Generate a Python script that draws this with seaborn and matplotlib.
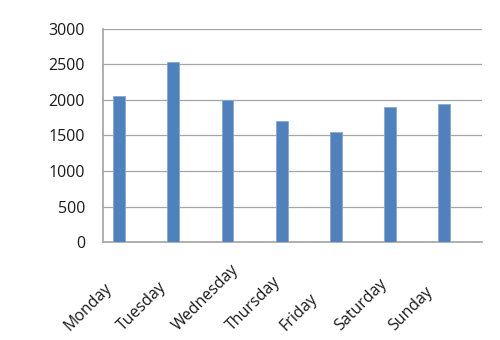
import matplotlib
matplotlib.use("Agg")
import matplotlib.pyplot as plt
from matplotlib.transforms import ScaledTranslation
import seaborn as sns
import pandas as pd
import numpy as np

days = ["Monday", "Tuesday", "Wednesday", "Thursday", "Friday", "Saturday", "Sunday"]
values = [2050, 2540, 2000, 1700, 1550, 1900, 1950]
yticks = [0, 500, 1000, 1500, 2000, 2500, 3000]

sns.set_theme(style="white")
plt.rcParams["font.family"] = ["Open Sans", "DejaVu Sans"]

# Excel-style clustered layout: the visible series sits in the left slot,
# an empty second series occupies the right slot.
df = pd.DataFrame({
    "day": days * 2,
    "value": values + [np.nan] * len(days),
    "series": ["Series1"] * len(days) + ["Series2"] * len(days),
})

fig = plt.figure(figsize=(5, 3.4), dpi=100)
ax = fig.add_axes([0.206, 0.288, 0.758, 0.627])
sns.barplot(data=df, x="day", y="value", hue="series",
            palette={"Series1": "#4F81BD", "Series2": "#C0504D"},
            width=0.8, gap=0.45, saturation=1, legend=False,
            edgecolor="#86a8d3", linewidth=0.6, ax=ax, zorder=3)

ax.set_ylim(0, 3000)
ax.set_xlim(-0.5, len(days) - 0.5)
ax.set_yticks(yticks)
ax.set_yticklabels([str(t) for t in yticks], fontsize=11.5, color="#1a1a1a")
ax.set_xticks(range(len(days)))
ax.set_xticklabels(days, rotation=45, ha="left", va="bottom",
                   rotation_mode="anchor", fontsize=11.5, color="#1a1a1a")
ax.set_xlabel("")
ax.set_ylabel("")
ax.yaxis.grid(True, color="#a6a6a6", linewidth=0.9, zorder=0)
ax.set_axisbelow(True)

for s in ["top", "right"]:
    ax.spines[s].set_visible(False)
ax.spines["left"].set_color("#a6a6a6")
ax.spines["bottom"].set_color("#a6a6a6")
ax.tick_params(axis="y", length=4.5, color="#a6a6a6", pad=8.5, direction="out")
ax.tick_params(axis="x", length=0, pad=0)

# category boundary tick marks on x axis
ax.set_xticks([i - 0.5 for i in range(len(days) + 1)], minor=True)
ax.tick_params(axis="x", which="minor", length=4.5, color="#a6a6a6", direction="out")

offset = ScaledTranslation(-0.58, -0.92, fig.dpi_scale_trans)
for lab in ax.get_xticklabels():
    lab.set_transform(lab.get_transform() + offset)

fig.savefig("out.png", dpi=100, facecolor="white")
